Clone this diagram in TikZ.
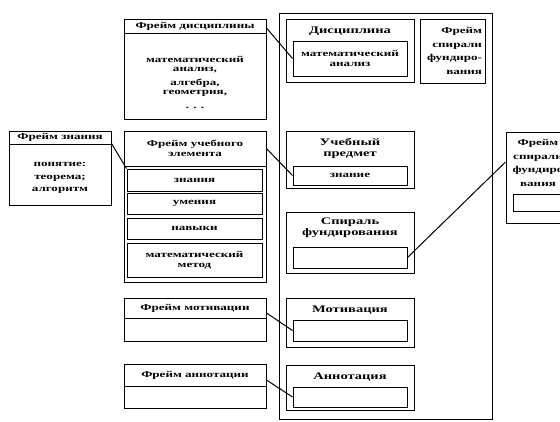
\documentclass[tikz,border=0pt]{standalone}
\usepackage{fontspec}
\setmainfont{Liberation Serif}[FakeStretch=1.45]
\usetikzlibrary{positioning}

\begin{document}
\begin{tikzpicture}[x=1pt, y=-1pt,
 font=\bfseries\fontsize{9}{9.5}\selectfont,
 box/.style={draw, line width=1pt, inner sep=0pt, align=center},
 title/.style={inner sep=0pt, align=center, font=\bfseries\fontsize{10}{11}\selectfont},
 body/.style={inner sep=0pt, align=center},
 edge/.style={line width=1pt}]
\clip (0,0) rectangle (560,421);
% left column: frames
\node[box, minimum width=142pt, minimum height=14pt] (fdisch) at (195,26) {Фрейм дисциплины};
\node[box, minimum width=142pt, minimum height=86pt] (fdiscb) at (195,76) {};
\node[body] (fdisct) at (195,82) {математический\\анализ,\\[4pt]алгебра,\\геометрия,\\[4pt]. . .};
\node[box, minimum width=102pt, minimum height=13pt] (fknowh) at (60,137.5) {Фрейм знания};
\node[box, minimum width=102pt, minimum height=61pt] (fknowb) at (60,174.5) {};
\node[body] (fknowt) at (60,178) {понятие:\\[3pt]теорема;\\[3pt]алгоритм};
\node[box, minimum width=142pt, minimum height=151pt] (fuel) at (195,206.5) {};
\node[box, minimum width=142pt, minimum height=35pt] (fuelh) at (195,148.5) {Фрейм учебного\\элемента};
\node[box, minimum width=135pt, minimum height=22pt] (zn) at (194.5,180) {знания};
\node[box, minimum width=135pt, minimum height=21pt] (um) at (194.5,203.5) {умения};
\node[box, minimum width=135pt, minimum height=21pt] (nav) at (194.5,228.5) {навыки};
\node[box, minimum width=135pt, minimum height=34pt] (mm) at (194.5,260) {математический\\метод};
\node[box, minimum width=142pt, minimum height=20pt] (fmoth) at (195,308) {Фрейм мотивации};
\node[box, minimum width=142pt, minimum height=23pt] (fmotb) at (195,329.5) {};
\node[box, minimum width=142pt, minimum height=22pt] (fannh) at (195,375) {Фрейм аннотации};
\node[box, minimum width=142pt, minimum height=22pt] (fannb) at (195,397) {};

% central column
\node[box, minimum width=213pt, minimum height=406pt] (center) at (385.5,216) {};
\node[box, minimum width=128pt, minimum height=63pt] (disc) at (350,50.5) {};
\node[title] (disct) at (350,31) {Дисциплина};
\node[box, minimum width=114pt, minimum height=35pt] (disci) at (350,58.5) {математический\\анализ};
\node[box, inner xsep=3pt, text width=59pt, align=right, minimum height=64pt] (fspir) at (452.5,51) {Фрейм\\[4pt]спирали\\[4pt]фундиро-\\[4pt]вания};
\node[box, minimum width=128pt, minimum height=57pt] (upred) at (350,159.5) {};
\node[title] (upredt) at (350,148) {Учебный\\предмет};
\node[box, minimum width=114pt, minimum height=19pt] (upredi) at (350,175.5) {знание};
\node[box, minimum width=128pt, minimum height=61pt] (spir) at (350,242.5) {};
\node[title] (spirt) at (350,228) {Спираль\\фундирования};
\node[box, minimum width=114pt, minimum height=21pt] (spiri) at (350,257.5) {};
\node[box, minimum width=128pt, minimum height=49pt] (motiv) at (350,322.5) {};
\node[title] (motivt) at (350,310) {Мотивация};
\node[box, minimum width=114pt, minimum height=21pt] (motivi) at (350,330.5) {};
\node[box, minimum width=128pt, minimum height=45pt] (annot) at (350,387.5) {};
\node[title] (annott) at (350,377) {Аннотация};
\node[box, minimum width=114pt, minimum height=20pt] (annoti) at (350,397) {};

% right frame
\node[box, minimum width=66pt, minimum height=91pt] (fspir2) at (539,177.5) {};
\node[body] (fspir2t) at (538,163) {Фрейм\\[4pt]спирали\\[4pt]фундиро\\[4pt]вания};
\node[box, minimum width=53pt, minimum height=17pt] (fspir2i) at (539.5,202.5) {};

% links
\draw[edge] ([yshift=-2pt]fdisch.east) -- (disci.west);
\draw[edge] (fknowb.north east) -- (zn.north west);
\draw[edge] (fuelh.east) -- (upredi.west);
\draw[edge] (spiri.east) -- ([yshift=15.5pt]fspir2.west);
\draw[edge] ([yshift=-5pt]fmoth.east) -- (motivi.west);
\draw[edge] ([yshift=-5pt]fannh.east) -- (annoti.west);
\end{tikzpicture}
\end{document}
